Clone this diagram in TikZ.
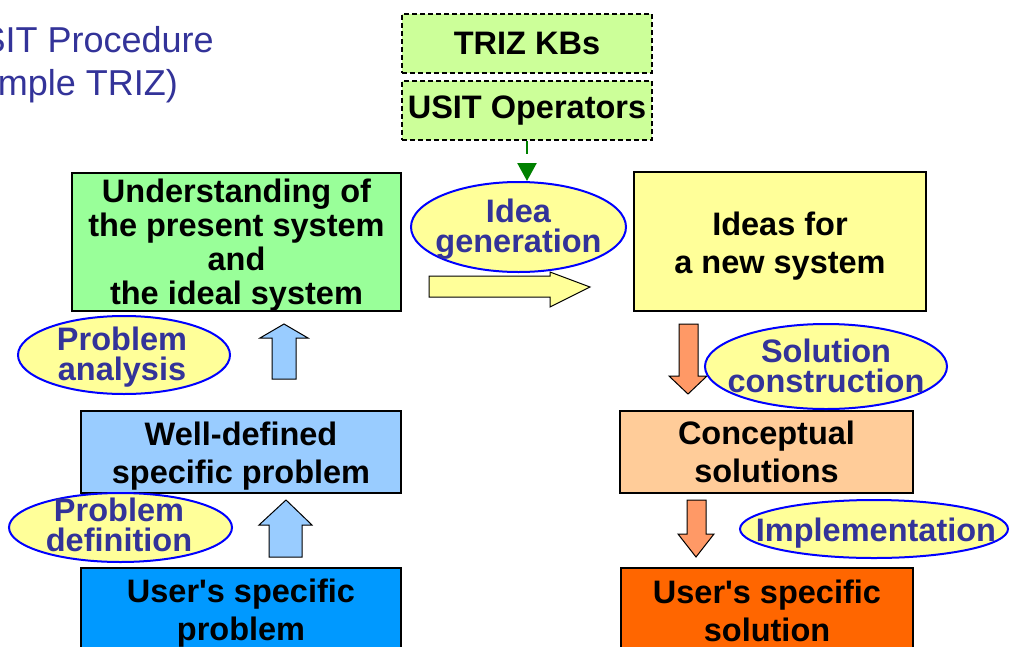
\documentclass[tikz,border=0pt]{standalone}
\usepackage{fontspec}
\setmainfont{Liberation Sans}
\usetikzlibrary{shapes.geometric,arrows.meta}
\definecolor{titleblue}{RGB}{51,51,153}
\definecolor{kbgreen}{RGB}{204,255,153}
\definecolor{boxgreen}{RGB}{153,255,153}
\definecolor{boxyellow}{RGB}{255,255,153}
\definecolor{boxlblue}{RGB}{153,204,255}
\definecolor{boxblue}{RGB}{0,153,255}
\definecolor{boxpeach}{RGB}{255,204,153}
\definecolor{boxorange}{RGB}{255,102,0}
\definecolor{arrorange}{RGB}{255,153,102}
\definecolor{ellblue}{RGB}{0,0,255}
\definecolor{arrgreen}{RGB}{0,128,0}
\tikzset{
  boxstyle/.style={draw=black, line width=1.5pt, rectangle, inner sep=0pt},
  kbstyle/.style={boxstyle, fill=kbgreen, dashed, dash pattern=on 5pt off 3pt,
    font=\fontsize{32.5}{39}\selectfont\bfseries},
  ellstyle/.style={draw=ellblue, line width=2pt, fill=boxyellow, ellipse, inner sep=0pt},
  elltext/.style={align=center, inner sep=0pt, text=titleblue, font=\fontsize{32.5}{30}\selectfont\bfseries},
  blockarrow/.style={draw=black, line width=1pt},
  titlestyle/.style={text=titleblue, font=\fontsize{36}{40}\selectfont, inner sep=0pt},
  labeltext/.style={align=center, inner sep=0pt, font=\fontsize{32.5}{38.5}\selectfont\bfseries},
}
\begin{document}
\begin{tikzpicture}[x=1pt,y=-1pt]
\useasboundingbox (0,0) rectangle (1010,646);
\clip (0,0) rectangle (1010,646);
\fill[white] (0,0) rectangle (1010,646);

% title
\node[titlestyle, anchor=base east] (t1) at (214,52) {USIT Procedure};
\node[titlestyle, anchor=base east] (t2) at (178,95) {(Simple TRIZ)};

% knowledge boxes
\node[kbstyle, minimum width=250pt, minimum height=59pt] (kb) at (527,43.5) {TRIZ KBs};
\node[kbstyle, minimum width=250pt, minimum height=59pt] (usit) at (527,110.5) {USIT Operators};

% main boxes
\node[boxstyle, fill=boxgreen, minimum width=329pt, minimum height=138pt] (under) at (236.5,242) {};
\node[labeltext, font=\fontsize{32.5}{34}\selectfont\bfseries] (undertext) at (236.5,245)
  {Understanding of\\the present system\\and\\the ideal system};
\node[boxstyle, fill=boxyellow, minimum width=292pt, minimum height=139pt] (ideas) at (780,241.5) {};
\node[labeltext] (ideastext) at (780,246) {Ideas for\\a new system};
\node[boxstyle, fill=boxlblue, minimum width=320pt, minimum height=82pt] (well) at (241,452) {};
\node[labeltext] (welltext) at (241,456) {Well-defined\\specific problem};
\node[boxstyle, fill=boxpeach, minimum width=293pt, minimum height=82pt] (concept) at (766.5,452) {};
\node[labeltext] (concepttext) at (766.5,452) {Conceptual\\solutions};
\node[boxstyle, fill=boxblue, minimum width=320pt, minimum height=112pt] (usp) at (241,624) {};
\node[labeltext] (usptext) at (241,613) {User\textquotesingle s specific\\problem};
\node[boxstyle, fill=boxorange, minimum width=292pt, minimum height=112pt] (uss) at (767,624) {};
\node[labeltext] (usstext) at (767,611) {User\textquotesingle s specific\\solution};

% block arrows
\draw[blockarrow, fill=boxyellow] (429,276) -- (550,276) -- (550,272) -- (590,287) -- (550,307) -- (550,297) -- (429,297) -- cycle;
\draw[blockarrow, fill=boxlblue] (272,379) -- (272,338) -- (260,338) -- (284,324) -- (308,338) -- (296,338) -- (296,379) -- cycle;
\draw[blockarrow, fill=boxlblue] (269,557) -- (269,525) -- (259,525) -- (286,500) -- (312,525) -- (302,525) -- (302,557) -- cycle;
\draw[blockarrow, fill=arrorange] (679,324) -- (698,324) -- (698,376) -- (707,376) -- (688,394) -- (669,376) -- (679,376) -- cycle;
\draw[blockarrow, fill=arrorange] (687,500) -- (706,500) -- (706,534) -- (714,534) -- (696,557) -- (678,534) -- (687,534) -- cycle;

% ellipses
\node[ellstyle, minimum width=215pt, minimum height=90pt] (idea) at (518.5,227) {};
\node[elltext] (ideatext) at (518.5,229) {Idea\\generation};
\node[ellstyle, minimum width=212pt, minimum height=78pt] (panal) at (124,355) {};
\node[elltext] (panaltext) at (122,357) {Problem\\analysis};
\node[ellstyle, minimum width=223pt, minimum height=69pt] (pdef) at (120.5,527.5) {};
\node[elltext] (pdeftext) at (119,524.5) {Problem\\definition};
\node[ellstyle, minimum width=242pt, minimum height=85pt] (solc) at (826,366.5) {};
\node[elltext] (solctext) at (826,365.5) {Solution\\construction};
\node[ellstyle, minimum width=268pt, minimum height=58pt] (impl) at (874,529) {};
\node[elltext] (impltext) at (876,533) {Implementation};

% green dashed arrow
\draw[arrgreen, line width=2.5pt, dash pattern=on 13pt off 12pt,
  -{Triangle[width=19pt,length=18pt]}] (usit.south) -- (usit.south |- idea.north);
\end{tikzpicture}
\end{document}
